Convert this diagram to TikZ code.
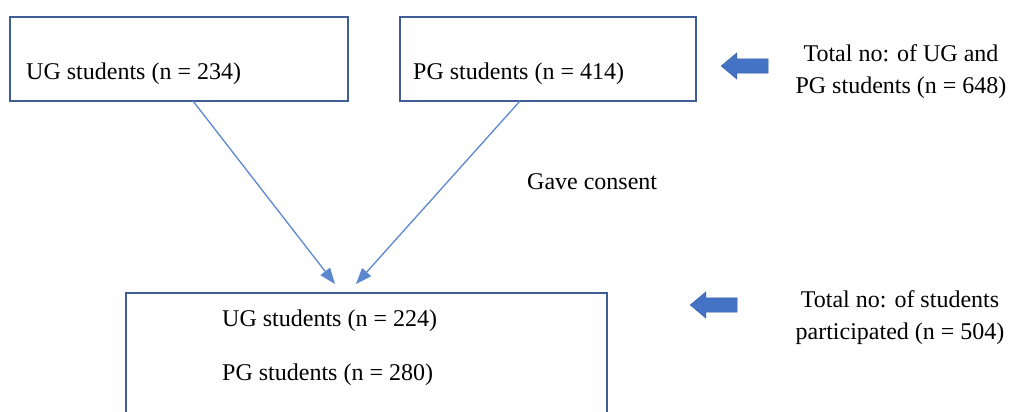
\documentclass[tikz,border=0pt]{standalone}
\usepackage{fontspec}
\setmainfont{Liberation Serif}
\usetikzlibrary{arrows.meta,shapes.arrows}
\definecolor{boxc}{HTML}{3F5E96}
\definecolor{linec}{HTML}{5B87CF}
\definecolor{blockc}{HTML}{4472C4}
\begin{document}
\begin{tikzpicture}[x=1pt,y=-1pt,
  box/.style={draw=boxc,line width=1.4pt,inner sep=0pt},
  txt/.style={font=\fontsize{24}{29}\selectfont,inner sep=0pt,anchor=west},
  ctxt/.style={font=\fontsize{24}{32}\selectfont,inner sep=0pt,align=center},
  conn/.style={draw=linec,line width=1.3pt,-{Triangle[length=16pt,width=12pt]}},
  blockarrow/.style={single arrow,fill=blockc,draw=blockc!80!black,line width=0.4pt,
    minimum height=47pt,inner xsep=0pt,inner ysep=7pt,single arrow head extend=6pt,
    single arrow tip angle=80,shape border rotate=180}]
\clip (0,0) rectangle (1013,412);
\node[box,minimum width=338pt,minimum height=84pt] (ug) at (179,59) {};
\node[box,minimum width=296pt,minimum height=84pt] (pg) at (548,59) {};
\node[box,minimum width=481pt,minimum height=160pt] (all) at (366.5,373) {};
\node[txt] (ugt) at (26,74) {UG students (n = 234)};
\node[txt] (pgt) at (413,74) {PG students (n = 414)};
\node[txt] (gave) at (527,182) {Gave consent};
\node[txt] (ugb) at (222,321) {UG students (n = 224)};
\node[txt] (pgb) at (222,375) {PG students (n = 280)};
\node[ctxt] (tot1) at (901,72) {Total no: of UG and\\PG students (n = 648)};
\node[ctxt] (tot2) at (900,318) {Total no: of students\\participated (n = 504)};
\coordinate (e1) at (335,284);
\coordinate (e2) at (356,284);
\draw[conn] (193,101) -- (e1);
\draw[conn] (520,101) -- (e2);
\node[blockarrow] (b1) at (749,66) {};
\node[blockarrow] (b2) at (718,305) {};
\end{tikzpicture}
\end{document}
